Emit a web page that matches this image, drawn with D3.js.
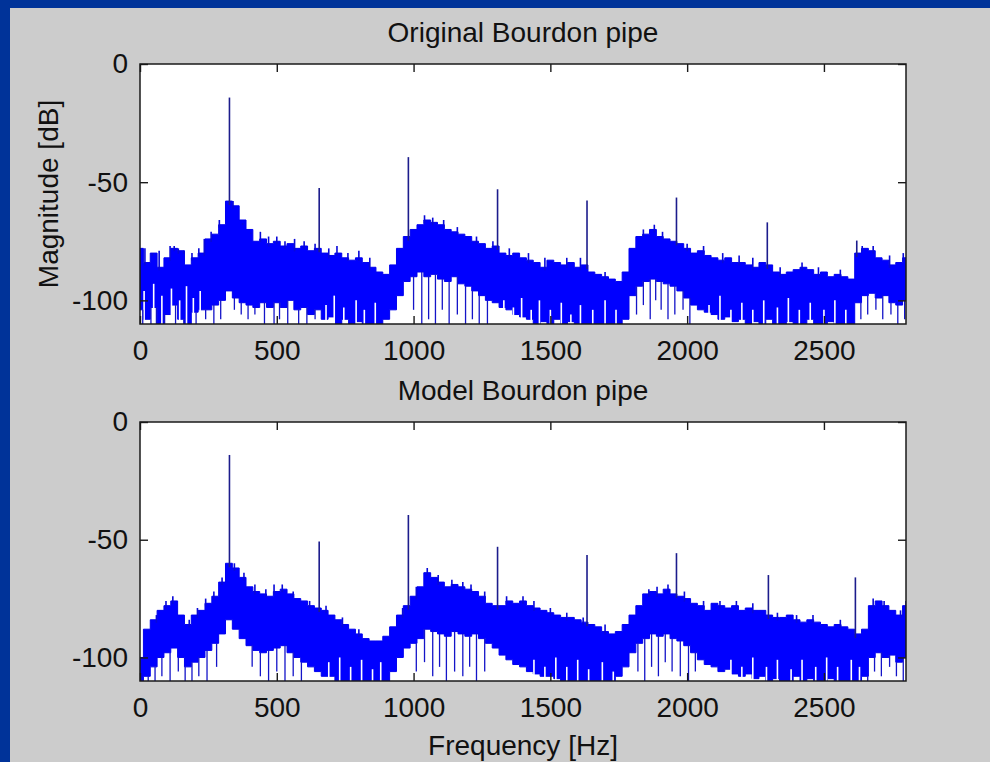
<!DOCTYPE html>
<html><head><meta charset="utf-8">
<script src="https://cdn.jsdelivr.net/npm/d3@7"></script>
<style>html,body{margin:0;padding:0;background:#cccccc;} svg{display:block}</style>
</head><body>
<script>
// ---------- data ----------
const freqStep = 25;               // Hz between envelope samples, 0..2800
const xTicks = [0, 500, 1000, 1500, 2000, 2500];
const yTicks = [0, -50, -100];
const titles = ["Original Bourdon pipe", "Model Bourdon pipe"];

// Original: upper edge of the noise band (dB)
const origTop = [
 -78,-84,-80,-86,-82,-78,-79,-85,-82,-80, -74,-72,-68,-58,-60,-66,-70,-75,-74,-76,
 -75,-77,-76,-78,-77,-79,-78,-80,-81,-80, -82,-83,-82,-84,-86,-88,-89,-85,-78,-73,
 -70,-68,-66,-67,-68,-70,-71,-72,-73,-75, -76,-78,-77,-80,-81,-80,-82,-83,-84,-86,
 -83,-84,-85,-84,-86,-85,-88,-89,-90,-91, -92,-88,-78,-73,-72,-70,-73,-74,-75,-76,
 -78,-80,-79,-81,-82,-83,-82,-84,-84,-85, -86,-84,-85,-88,-89,-88,-87,-86,-87,-89,
 -88,-90,-89,-90,-91,-80,-78,-79,-82,-83, -85,-84,-82
];
// Original: lower edge of the solid band (dB)
const origBottom = [
 -104,-108,-103,-110,-106,-102,-108,-110,-105,-104, -104,-102,-100,-96,-99,-101,-102,-103,-101,-103,
 -101,-103,-100,-104,-103,-106,-104,-108,-107,-110, -108,-110,-109,-110,-110,-110,-108,-104,-98,-92,
 -90,-88,-90,-89,-91,-92,-90,-93,-94,-96, -98,-100,-101,-103,-104,-106,-107,-108,-110,-109,
 -110,-108,-110,-109,-110,-110,-110,-110,-110,-110, -110,-108,-98,-94,-92,-91,-92,-93,-94,-96,
 -99,-102,-104,-105,-106,-108,-107,-109,-108,-110, -109,-110,-108,-110,-110,-109,-110,-110,-108,-110,
 -110,-109,-110,-110,-110,-101,-98,-97,-99,-98, -101,-102,-100
];
// Original: short noise spikes above the band [Hz, dB]
const origSpikes = [
 [18,-78],[45,-80],[70,-79],[110,-77],[125,-77],[140,-78],[160,-79],[190,-80],[215,-78],[235,-74],
 [260,-71],[290,-66],[340,-58],[375,-68],[405,-72],[440,-71],[470,-73],[500,-73],[530,-75],[565,-74],
 [600,-75],[640,-76],[690,-78],[720,-77],[760,-80],[800,-79],[840,-82],[1040,-64],[1070,-65],[1110,-66],
 [1160,-69],[1230,-73],[1290,-75],[1350,-78],[1420,-80],[1480,-82],[1560,-82],[1610,-82],[1700,-88],[1840,-70],
 [1880,-68],[1910,-71],[2000,-76],[2060,-77],[2130,-80],[2190,-81],[2240,-82],[2340,-86],[2420,-84],[2480,-86],
 [2560,-87],[2640,-77],[2680,-77],[2740,-81],[2790,-80]
];
// Original: white gaps reaching up into the band from the bottom [Hz, dB]
const origGaps = [
 [15,-96],[50,-93],[80,-98],[115,-95],[145,-100],[170,-94],[195,-99],[220,-96],[680,-102],[710,-98],
 [745,-103],[790,-100],[820,-104],[860,-101],[1330,-100],[1365,-103],[1395,-99],[1430,-104],[1460,-100],[1500,-104],
 [1540,-101],[1575,-106],[1610,-102],[1655,-104],[1700,-100],[1740,-104],[2080,-102],[2120,-98],[2160,-104],[2200,-101],
 [2240,-104],[2280,-100],[2330,-103],[2370,-99],[2410,-104],[2450,-101],[2500,-104],[2540,-100],[2580,-104]
];
// Original: deep narrow nulls below the band [Hz, dB]
const origDips = [
 [10,-110],[40,-110],[60,-110],[90,-110],[130,-110],[160,-110],[205,-110],[240,-108],[270,-110],[295,-108],
 [345,-104],[370,-106],[395,-108],[420,-106],[455,-110],[490,-110],[510,-108],[540,-110],[580,-110],[610,-110],[640,-108],
 [1000,-104],[1030,-110],[1055,-108],[1080,-110],[1105,-104],[1130,-110],[1160,-106],[1190,-110],[1215,-108],[1240,-110],[1270,-110],
 [1815,-106],[1840,-102],[1865,-108],[1885,-100],[1905,-104],[1930,-108],[1955,-106],[1985,-104],[2010,-110],
 [2635,-108],[2660,-106],[2690,-104],[2715,-108],[2745,-106],[2770,-110],[2795,-108]
];
// Original: harmonic peaks [Hz, dB]
const origPeaks = [[327,-14.2],[655,-52.5],[981,-39.4],[1307,-53],[1634,-57.8],[1961,-56.5],[2293,-67],[2620,-74.7]];

// Model: upper edge of the noise band (dB)
const modelTop = [
 -100,-88,-84,-80,-78,-76,-82,-86,-82,-80, -77,-74,-68,-60,-62,-66,-70,-72,-73,-74,
 -72,-71,-73,-75,-76,-78,-79,-80,-82,-84, -86,-88,-90,-92,-93,-93,-91,-87,-82,-78,
 -74,-70,-64,-66,-68,-70,-69,-70,-71,-72, -74,-77,-78,-78,-76,-77,-76,-78,-79,-80,
 -81,-82,-83,-83,-84,-85,-86,-87,-89,-90, -89,-86,-82,-78,-73,-72,-73,-71,-73,-74,
 -75,-77,-78,-80,-77,-78,-79,-78,-80,-79, -80,-80,-82,-83,-83,-82,-84,-85,-84,-85,
 -86,-87,-86,-87,-88,-90,-88,-78,-76,-78, -80,-82,-78
];
// Model: lower edge of the solid band (dB)
const modelBottom = [
 -110,-108,-104,-100,-98,-96,-100,-104,-102,-100, -97,-94,-90,-84,-88,-92,-95,-97,-98,-97,
 -96,-95,-98,-100,-102,-104,-106,-108,-108,-110, -110,-110,-110,-110,-110,-110,-110,-106,-100,-96,
 -94,-92,-88,-89,-90,-91,-89,-90,-91,-90, -92,-94,-96,-99,-101,-103,-104,-106,-107,-108,
 -108,-109,-110,-110,-110,-110,-110,-110,-110,-110, -108,-104,-98,-94,-92,-90,-91,-90,-92,-93,
 -95,-98,-101,-103,-104,-106,-105,-107,-108,-107, -109,-108,-110,-109,-110,-110,-108,-110,-109,-110,
 -110,-109,-110,-110,-110,-110,-108,-100,-98,-100, -99,-102,-100
];
const modelSpikes = [
 [60,-82],[95,-76],[120,-74],[180,-84],[210,-79],[240,-75],[270,-72],[300,-66],[345,-60],[380,-64],
 [420,-69],[460,-71],[490,-69],[520,-69],[560,-72],[620,-76],[680,-78],[740,-83],[800,-88],[960,-79],
 [1010,-70],[1050,-62],[1090,-65],[1140,-67],[1180,-68],[1210,-69],[1260,-72],[1340,-74],[1400,-74],[1440,-76],
 [1500,-79],[1560,-81],[1620,-83],[1700,-86],[1860,-71],[1890,-70],[1930,-69],[1990,-72],[2060,-76],[2120,-76],
 [2180,-76],[2240,-77],[2330,-81],[2400,-82],[2460,-82],[2560,-84],[2680,-75],[2720,-76],[2780,-80],[2800,-76]
];
const modelGaps = [
 [690,-102],[730,-100],[770,-104],[810,-101],[850,-105],[880,-102],[1440,-101],[1480,-104],[1520,-100],[1560,-104],
 [1600,-101],[1640,-105],[1690,-102],[1730,-106],[2160,-101],[2200,-104],[2240,-100],[2290,-104],[2330,-101],[2380,-105],
 [2420,-101],[2470,-104],[2510,-100],[2550,-104],[2600,-101],[2630,-104]
];
const modelDips = [
 [30,-110],[55,-110],[80,-108],[110,-110],[140,-106],[165,-110],[190,-110],[215,-108],[245,-110],[280,-104],
 [410,-104],[440,-108],[470,-110],[500,-106],[530,-110],[560,-108],[590,-110],
 [1010,-106],[1040,-102],[1070,-108],[1095,-104],[1120,-110],[1150,-106],[1180,-108],[1205,-104],[1230,-110],[1260,-106],
 [1820,-106],[1845,-110],[1870,-104],[1895,-108],[1920,-102],[1945,-106],[1975,-108],[2005,-110],[2030,-106],
 [2660,-110],[2685,-106],[2710,-108],[2740,-104],[2765,-108],[2790,-110]
];
const modelPeaks = [[327,-14],[655,-50.8],[981,-39.5],[1307,-53],[1634,-56.5],[1961,-55.7],[2297,-65],[2615,-66]];

// ---------- drawing ----------
const W = 990, H = 762;
const FONT = "'Liberation Sans', Arial, Helvetica, sans-serif";
const FS = 28;
const svg = d3.select("body").append("svg").attr("width", W).attr("height", H);
svg.append("rect").attr("width", W).attr("height", H).attr("fill", "#cccccc");
svg.append("rect").attr("x", 0).attr("y", 0).attr("width", W).attr("height", 8).attr("fill", "#003399");
svg.append("rect").attr("x", 0).attr("y", 0).attr("width", 10).attr("height", H).attr("fill", "#003399");

const x = d3.scaleLinear().domain([0, 2800]).range([140, 906]);

function panel(idx, top, bottom, hi, lo, spikes, gaps, dips, peaks) {
  const y = d3.scaleLinear().domain([-110, 0]).range([bottom, top]);
  const g = svg.append("g");
  const clipId = "clip" + idx;
  svg.append("clipPath").attr("id", clipId).append("rect")
    .attr("x", x(0)).attr("y", top).attr("width", x(2800) - x(0)).attr("height", bottom - top);

  g.append("rect").attr("x", x(0)).attr("y", top).attr("width", x(2800) - x(0))
    .attr("height", bottom - top).attr("fill", "#ffffff");

  const band = hi.map((h, i) => ({ f: i * freqStep, hi: h, lo: lo[i] }));
  const idxOf = f => Math.max(0, Math.min(hi.length - 1, Math.round(f / freqStep)));
  const plot = g.append("g").attr("clip-path", `url(#${clipId})`);

  const area = d3.area().x(d => x(d.f)).y0(d => y(d.lo)).y1(d => y(d.hi)).curve(d3.curveStep);
  plot.append("path").datum(band).attr("d", area)
    .attr("fill", "#0000ff").attr("stroke", "#0000ee").attr("stroke-width", 1);

  // white gaps from the bottom into the band
  plot.selectAll("line.gap").data(gaps).join("line").attr("class", "gap")
    .attr("x1", d => x(d[0])).attr("x2", d => x(d[0]))
    .attr("y1", y(-110)).attr("y2", d => y(d[1]))
    .attr("stroke", "#ffffff").attr("stroke-width", 1.6);

  // thin nulls below the band
  plot.selectAll("line.dip").data(dips).join("line").attr("class", "dip")
    .attr("x1", d => x(d[0])).attr("x2", d => x(d[0]))
    .attr("y1", d => y(lo[idxOf(d[0])])).attr("y2", d => y(d[1]))
    .attr("stroke", "#1414c8").attr("stroke-width", 1.3);

  // short noise spikes on top of the band
  plot.selectAll("line.spike").data(spikes).join("line").attr("class", "spike")
    .attr("x1", d => x(d[0])).attr("x2", d => x(d[0]))
    .attr("y1", d => y(d[1])).attr("y2", d => y(hi[idxOf(d[0])]) + 3)
    .attr("stroke", "#0808d8").attr("stroke-width", 1.6);

  // harmonic peaks
  plot.selectAll("line.peak").data(peaks).join("line").attr("class", "peak")
    .attr("x1", d => x(d[0])).attr("x2", d => x(d[0]))
    .attr("y1", d => y(d[1])).attr("y2", d => y(hi[idxOf(d[0])]) + 4)
    .attr("stroke", "#1c1c8c").attr("stroke-width", 1.6);

  // axes with inward ticks
  const fmt = d => String(d).replace("\u2212", "-");
  const axB = d3.axisBottom(x).tickValues(xTicks).tickFormat(fmt).tickSizeInner(-8).tickSizeOuter(0).tickPadding(16);
  const axT = d3.axisTop(x).tickValues(xTicks).tickSizeInner(-8).tickSizeOuter(0).tickFormat("");
  const axL = d3.axisLeft(y).tickValues(yTicks).tickFormat(fmt).tickSizeInner(-8).tickSizeOuter(0).tickPadding(12);
  const axR = d3.axisRight(y).tickValues(yTicks).tickSizeInner(-8).tickSizeOuter(0).tickFormat("");
  const style = sel => {
    sel.select(".domain").remove();
    sel.selectAll("line").attr("stroke", "#1a1a1a").attr("stroke-width", 1.4);
    sel.selectAll("text").attr("font-family", FONT).attr("font-size", FS).attr("fill", "#111");
  };
  g.append("g").attr("transform", `translate(0,${bottom})`).call(axB).call(style);
  g.append("g").attr("transform", `translate(0,${top})`).call(axT).call(style);
  g.append("g").attr("transform", `translate(${x(0)},0)`).call(axL).call(style);
  g.append("g").attr("transform", `translate(${x(2800)},0)`).call(axR).call(style);

  g.append("rect").attr("x", x(0)).attr("y", top).attr("width", x(2800) - x(0))
    .attr("height", bottom - top).attr("fill", "none").attr("stroke", "#1a1a1a").attr("stroke-width", 1.5);

  g.append("text").attr("x", (x(0) + x(2800)) / 2).attr("y", top - 22)
    .attr("text-anchor", "middle").attr("font-family", FONT).attr("font-size", FS).attr("fill", "#111")
    .text(titles[idx]);
  return y;
}

panel(0, 64, 324, origTop, origBottom, origSpikes, origGaps, origDips, origPeaks);
panel(1, 422, 681, modelTop, modelBottom, modelSpikes, modelGaps, modelDips, modelPeaks);

svg.append("text").attr("transform", "translate(58,194) rotate(-90)")
  .attr("text-anchor", "middle").attr("font-family", FONT).attr("font-size", FS).attr("fill", "#111")
  .text("Magnitude [dB]");
svg.append("text").attr("x", 523).attr("y", 755)
  .attr("text-anchor", "middle").attr("font-family", FONT).attr("font-size", FS).attr("fill", "#111")
  .text("Frequency [Hz]");
</script>
</body></html>
